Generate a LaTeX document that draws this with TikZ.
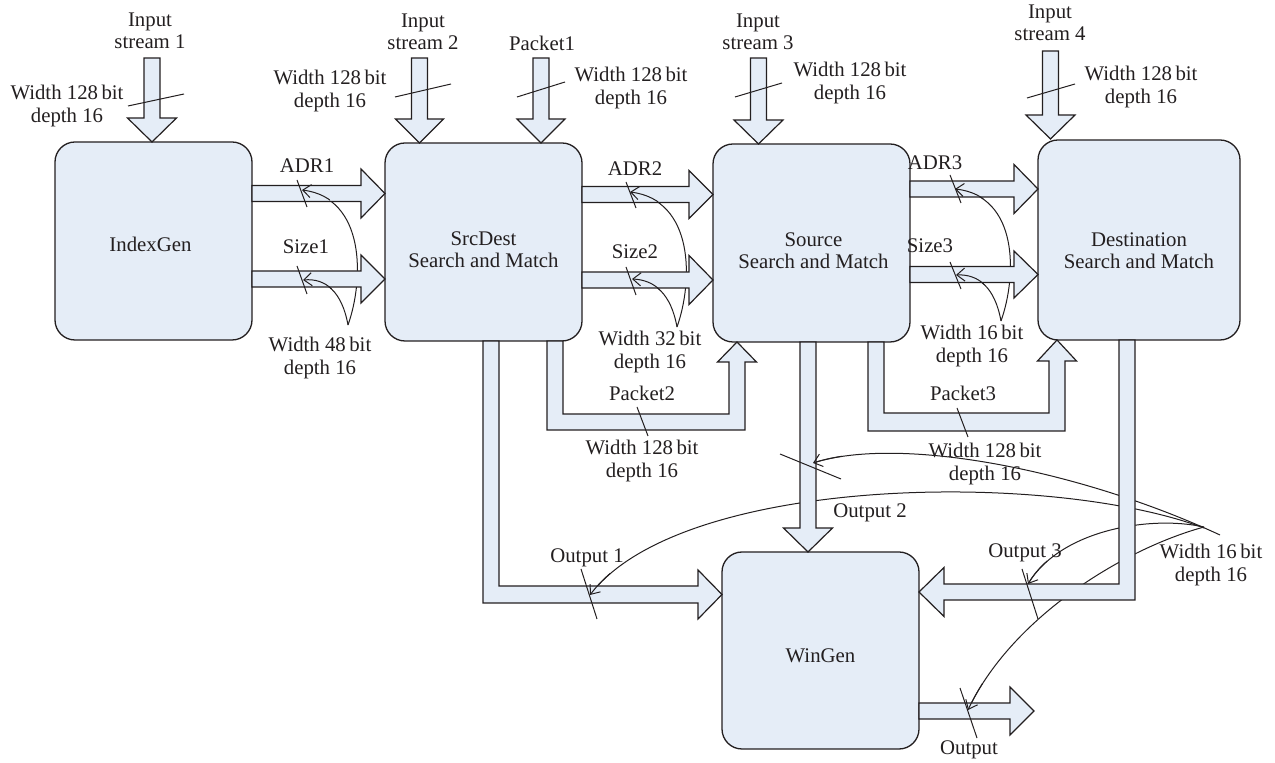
\documentclass[tikz,border=0pt]{standalone}
\usepackage{fontspec}
\setmainfont{Liberation Serif}
\usetikzlibrary{arrows.meta}
\definecolor{boxfill}{RGB}{229,237,247}
\definecolor{ink}{RGB}{35,31,32}

% right-pointing block arrow: x-start, x-tip, y-centre, head half-width
\newcommand\rightbar[4]{%
  \draw[barrow] (#1,#3-8) -- (#2-24,#3-8) -- (#2-24,#3-#4) -- (#2,#3)
    -- (#2-24,#3+#4) -- (#2-24,#3+8) -- (#1,#3+8) -- cycle;}
% down-pointing block arrow: x-centre, y-start, y-tip, head half-width
\newcommand\downbar[4]{%
  \draw[barrow] (#1-8,#2) -- (#1-8,#3-24) -- (#1-#4,#3-24) -- (#1,#3)
    -- (#1+#4,#3-24) -- (#1+8,#3-24) -- (#1+8,#2) -- cycle;}
% thin leader curve, drawn behind the buses
\newcommand\leadline[4]{\draw[lead] #1 .. controls #2 and #3 .. #4;}
% its tip end, redrawn on top of the buses
\newcommand\leadend[4]{\begin{scope}\clip #4 circle (15pt);
  \draw[leadtip] #1 .. controls #2 and #3 .. #4;\end{scope}}

\begin{document}
\begin{tikzpicture}[x=0.5pt,y=-0.5pt,
  blk/.style={draw=ink, fill=boxfill, line width=0.65pt, rounded corners=10pt, inner sep=0pt},
  barrow/.style={draw=ink, fill=boxfill, line width=0.6pt, line join=miter},
  lbl/.style={font=\fontsize{10.4}{11.2}\selectfont, align=center, inner sep=0pt, text=ink},
  tick/.style={draw=ink, line width=0.5pt},
  lead/.style={draw=ink, line width=0.5pt},
  leadtip/.style={lead, -{Straight Barb[length=4pt,width=6.5pt]}},
]
\useasboundingbox (0,0) rectangle (1275,763);

% ---------- leader curves (behind everything) ----------
\leadline{(348,325)}{(364,280)}{(366,198)}{(302,190)}
\leadline{(348,325)}{(342,292)}{(326,278)}{(303,280)}
\leadline{(677,327)}{(693,282)}{(695,200)}{(630,192)}
\leadline{(677,327)}{(671,294)}{(655,280)}{(632,279)}
\leadline{(1001,321)}{(1017,276)}{(1019,196)}{(955,189)}
\leadline{(1001,321)}{(995,288)}{(979,274)}{(956,275)}
\leadline{(1220,535)}{(1080,470)}{(900,435)}{(813,463)}
\leadline{(1204,528)}{(1050,470)}{(680,475)}{(590,595)}
\leadline{(1204,527)}{(1150,515)}{(1060,530)}{(1028,584)}
\leadline{(1204,527)}{(1120,550)}{(1010,620)}{(968,710)}

% ---------- processing blocks ----------
\node[blk, minimum width=98.5pt, minimum height=99pt] (idx) at (153.5,241) {};
\node[blk, minimum width=98.5pt, minimum height=99pt] (sd)  at (483.5,242) {};
\node[blk, minimum width=98.5pt, minimum height=99pt] (src) at (811.5,243) {};
\node[blk, minimum width=101pt,  minimum height=100pt] (dst) at (1139,240) {};
\node[blk, minimum width=98.5pt, minimum height=98.5pt] (win) at (820.5,650.5) {};

\node[lbl] (tidx) at ([xshift=-1.5pt,yshift=-1.5pt]idx.center) {IndexGen};
\node[lbl] (tsd)  at ([yshift=-4pt]sd.center)  {SrcDest\\Search and Match};
\node[lbl] (tsrc) at ([xshift=1pt,yshift=-4pt]src.center) {Source\\Search and Match};
\node[lbl] (tdst) at ([yshift=-5.5pt]dst.center) {Destination\\Search and Match};
\node[lbl] (twin) at ([yshift=-2.5pt]win.center) {WinGen};

% ---------- input buses ----------
\downbar{152}{58}{142}{24.5}
\downbar{419.5}{58}{143}{24}
\downbar{541}{58}{143}{24}
\downbar{758.5}{58}{144}{24.5}
\downbar{1050.5}{51}{139}{24.5}

% ---------- block-to-block buses ----------
\rightbar{252}{385}{193.5}{24.5}
\rightbar{252}{385}{279}{24}
\rightbar{582}{713}{194.5}{24}
\rightbar{582}{713}{280}{24.5}
\rightbar{910}{1038}{189}{24.5}
\rightbar{910}{1038}{274.5}{23.5}

% Packet2: SrcDest -> Source
\draw[barrow] (547,341) -- (547,430) -- (745,430) -- (745,362) -- (756.5,362)
  -- (737,342) -- (717.5,362) -- (729,362) -- (729,414) -- (563,414) -- (563,341) -- cycle;
% Packet3: Source -> Destination
\draw[barrow] (868,342) -- (868,431) -- (1065,431) -- (1065,361) -- (1076.5,361)
  -- (1057,340) -- (1037.5,361) -- (1049,361) -- (1049,413) -- (884,413) -- (884,342) -- cycle;

% ---------- buses into WinGen ----------
\draw[barrow] (483,341) -- (483,603) -- (698,603) -- (698,619) -- (722,594.5)
  -- (698,570) -- (698,586) -- (499,586) -- (499,341) -- cycle;
\downbar{808}{342}{552}{24.5}
\draw[barrow] (1135,340) -- (1135,600) -- (944,600) -- (944,616.5) -- (919,592)
  -- (944,567.5) -- (944,584) -- (1119,584) -- (1119,340) -- cycle;
\rightbar{919}{1034}{711}{24}

% ---------- leader tips (on top) ----------
\leadend{(348,325)}{(364,280)}{(366,198)}{(302,190)}
\leadend{(348,325)}{(342,292)}{(326,278)}{(303,280)}
\leadend{(677,327)}{(693,282)}{(695,200)}{(630,192)}
\leadend{(677,327)}{(671,294)}{(655,280)}{(632,279)}
\leadend{(1001,321)}{(1017,276)}{(1019,196)}{(955,189)}
\leadend{(1001,321)}{(995,288)}{(979,274)}{(956,275)}
\leadend{(1220,535)}{(1080,470)}{(900,435)}{(813,463)}
\leadend{(1204,528)}{(1050,470)}{(680,475)}{(590,595)}
\leadend{(1204,527)}{(1150,515)}{(1060,530)}{(1028,584)}
\leadend{(1204,527)}{(1120,550)}{(1010,620)}{(968,710)}

% ---------- width ticks ----------
\draw[tick] (128,106) -- (184,94);
\draw[tick] (395,97) -- (451,84);
\draw[tick] (517,97) -- (565,82);
\draw[tick] (735,97) -- (782,83);
\draw[tick] (1027,98) -- (1075,84);
\draw[tick] (297,180) -- (307,207);
\draw[tick] (297,266) -- (307,294);
\draw[tick] (626,182) -- (636,208);
\draw[tick] (626,267) -- (636,295);
\draw[tick] (950,175) -- (961,203);
\draw[tick] (950,262) -- (961,289);
\draw[tick] (637,407) -- (648,436);
\draw[tick] (957,408) -- (968,437);
\draw[tick] (581,569) -- (597,619);
\draw[tick] (780,454) -- (841,479);
\draw[tick] (1022,569) -- (1038,619);
\draw[tick] (960,688) -- (977,738);

% ---------- labels ----------
\node[lbl] (in1) at (150,31) {Input\\stream 1};
\node[lbl] (w1)  at (67,106) {Width 128\,bit\\depth 16};
\node[lbl] (in2) at (423,32) {Input\\stream 2};
\node[lbl] (w2)  at (330,91) {Width 128\,bit\\depth 16};
\node[lbl] (pk1) at (542,43) {Packet1};
\node[lbl] (wp1) at (631,88) {Width 128\,bit\\depth 16};
\node[lbl] (in3) at (758,32) {Input\\stream 3};
\node[lbl] (w3)  at (850,83) {Width 128\,bit\\depth 16};
\node[lbl] (in4) at (1050,23) {Input\\stream 4};
\node[lbl] (w4)  at (1141,87) {Width 128\,bit\\depth 16};

\node[lbl] (a1) at (307,166) {ADR1};
\node[lbl] (s1) at (306,247) {Size1};
\node[lbl] (w48) at (320,358) {Width 48\,bit\\depth 16};
\node[lbl] (a2) at (635,169) {ADR2};
\node[lbl] (s2) at (635,252) {Size2};
\node[lbl] (w32) at (650,352) {Width 32\,bit\\depth 16};
\node[lbl] (a3) at (935,163) {ADR3};
\node[lbl] (s3) at (930,246) {Size3};
\node[lbl] (w16a) at (972,346) {Width 16\,bit\\depth 16};

\node[lbl] (pk2) at (642,393) {Packet2};
\node[lbl] (wp2) at (642,461) {Width 128\,bit\\depth 16};
\node[lbl] (pk3) at (963,393) {Packet3};
\node[lbl] (wp3) at (985,464) {Width 128\,bit\\depth 16};

\node[lbl] (o1) at (587,558) {Output 1};
\node[lbl] (o2) at (870,513) {Output 2};
\node[lbl] (o3) at (1025,553) {Output 3};
\node[lbl] (o)  at (969,750) {Output};
\node[lbl] (w16b) at (1211,565) {Width 16\,bit\\depth 16};
\end{tikzpicture}
\end{document}
